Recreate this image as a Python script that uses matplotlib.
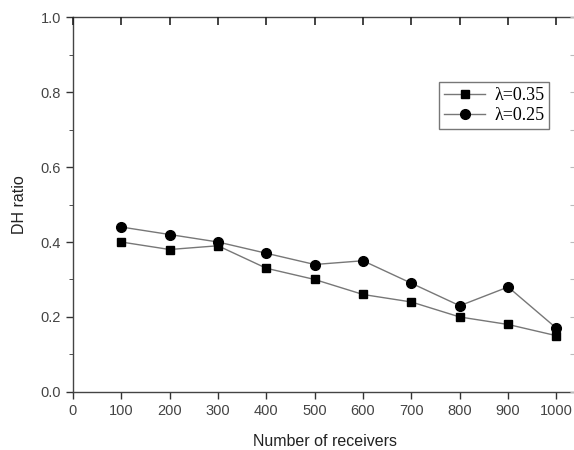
import matplotlib
matplotlib.use("Agg")
import matplotlib.pyplot as plt
from matplotlib.ticker import MultipleLocator

receivers = [100, 200, 300, 400, 500, 600, 700, 800, 900, 1000]
ratio_035 = [0.40, 0.38, 0.39, 0.33, 0.30, 0.26, 0.24, 0.20, 0.18, 0.15]
ratio_025 = [0.44, 0.42, 0.40, 0.37, 0.34, 0.35, 0.29, 0.23, 0.28, 0.17]

plt.rcParams["font.family"] = ["Liberation Sans", "DejaVu Sans"]

fig = plt.figure(figsize=(5.74, 4.5), dpi=100)
# right spine falls just outside the picture, as in the original scan
ax = fig.add_axes([0.127, 0.129, 0.877, 0.833])

ax.plot(receivers, ratio_035, color="#777777", lw=1, marker="s", ms=6,
        mfc="black", mec="black", label="λ=0.35")
ax.plot(receivers, ratio_025, color="#777777", lw=1, marker="o", ms=7,
        mfc="black", mec="black", label="λ=0.25")

ax.set_xlim(0, 1041)
ax.set_ylim(0, 1.0)
ax.xaxis.set_major_locator(MultipleLocator(100))
ax.yaxis.set_major_locator(MultipleLocator(0.2))
ax.yaxis.set_minor_locator(MultipleLocator(0.1))
ax.yaxis.set_major_formatter(plt.FormatStrFormatter("%.1f"))
ax.tick_params(direction="out", length=5, width=1, colors="#333333",
               labelsize=10.5, labelcolor="#444444")
ax.tick_params(which="minor", direction="out", length=3, colors="#333333")
for s in ax.spines.values():
    s.set_color("#444444")
    s.set_linewidth(1)

# inward ticks on the top and right edges
top = ax.twiny()
top.set_xlim(ax.get_xlim())
top.xaxis.set_major_locator(MultipleLocator(100))
top.tick_params(axis="x", which="major", direction="in", length=6, width=1.2,
                color="#222222", top=True, bottom=False,
                labeltop=False, labelbottom=False)
right = ax.twinx()
right.set_ylim(ax.get_ylim())
right.yaxis.set_major_locator(MultipleLocator(0.1))
right.tick_params(axis="y", which="major", direction="in", length=4,
                  color="#bbbbbb", right=True, left=False,
                  labelright=False, labelleft=False)
for extra in (top, right):
    for s in extra.spines.values():
        s.set_visible(False)

ax.set_xlabel("Number of receivers", fontsize=11.5, color="#222222", labelpad=12)
ax.set_ylabel("DH ratio", fontsize=11.5, color="#222222", labelpad=10)

leg = ax.legend(loc="upper left", bbox_to_anchor=(0.728, 0.826),
                prop={"family": ["Liberation Serif"], "size": 13},
                frameon=True, fancybox=False, handlelength=2.3,
                borderpad=0.25, labelspacing=0.2, handletextpad=0.5,
                borderaxespad=0)
leg.get_frame().set_edgecolor("#555555")
leg.get_frame().set_linewidth(1)

fig.savefig("out.png", dpi=100)
